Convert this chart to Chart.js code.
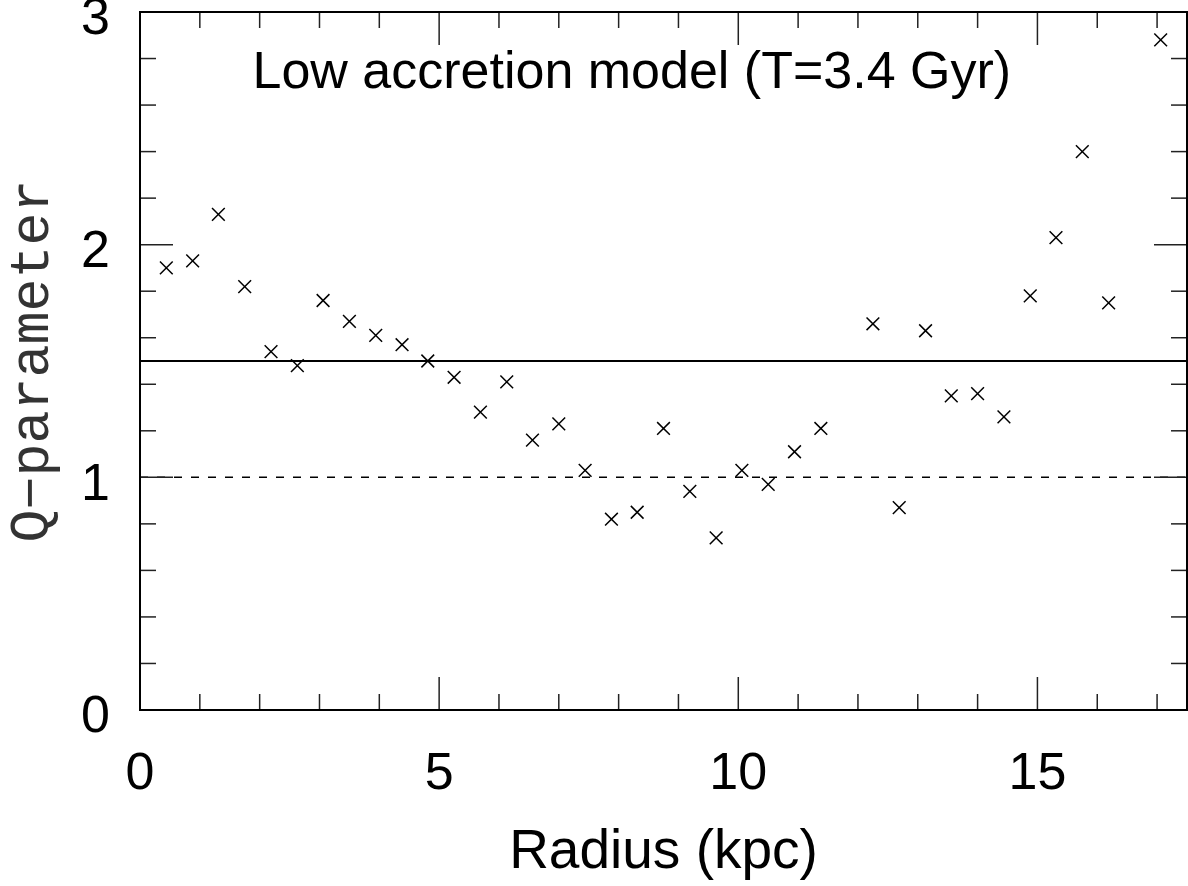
<!DOCTYPE html>
<html>
<head>
<meta charset="utf-8">
<script src="https://cdn.jsdelivr.net/npm/chart.js@4.4.1/dist/chart.umd.min.js"></script>
<style>
  html, body { margin: 0; padding: 0; background: #fff; }
  canvas { display: block; }
</style>
</head>
<body>
<canvas id="qChart" width="1188" height="886"></canvas>
<script>
// radius (kpc) and Q values
const radius = [0.44, 0.88, 1.31, 1.75, 2.19, 2.63, 3.06, 3.50, 3.94, 4.38,
                4.81, 5.25, 5.69, 6.13, 6.56, 7.00, 7.44, 7.88, 8.31, 8.75,
                9.19, 9.63, 10.06, 10.50, 10.94, 11.38, 12.25, 12.69, 13.13, 13.56,
                14.00, 14.44, 14.88, 15.31, 15.75, 16.19, 17.06];
const qValues = [1.90, 1.93, 2.13, 1.82, 1.54, 1.48, 1.76, 1.67, 1.61, 1.57,
                 1.50, 1.43, 1.28, 1.41, 1.16, 1.23, 1.03, 0.82, 0.85, 1.21,
                 0.94, 0.74, 1.03, 0.97, 1.11, 1.21, 1.66, 0.87, 1.63, 1.35,
                 1.36, 1.26, 1.78, 2.03, 2.40, 1.75, 2.88];

const xRange = [0, 17.5];
const yRange = [0, 3];
const xTickLabels = [0, 5, 10, 15];
const yTickLabels = [0, 1, 2, 3];
const qSolid = 1.5;   // solid reference line
const qDashed = 1.0;  // dashed reference line

const titleText = 'Low accretion model (T=3.4 Gyr)';

const points = radius.map((r, i) => ({ x: r, y: qValues[i] }));

// frame with inward ticks on all four sides
const axisFrame = {
  id: 'axisFrame',
  afterDraw(chart) {
    const { ctx, chartArea: a, scales: { x, y } } = chart;
    ctx.save();
    const seg = (x1, y1, x2, y2) => {
      ctx.beginPath();
      ctx.moveTo(x1, y1);
      ctx.lineTo(x2, y2);
      ctx.stroke();
    };
    ctx.strokeStyle = '#222';
    ctx.lineWidth = 1.5;
    for (let v = 1; v < xRange[1]; v++) {
      const len = xTickLabels.includes(v) ? 33 : 16;
      const px = x.getPixelForValue(v);
      seg(px, a.bottom, px, a.bottom - len);
      seg(px, a.top, px, a.top + len);
    }
    for (let k = 1; k < 15; k++) {
      const v = k / 5;
      const len = k % 5 === 0 ? 33 : 16;
      const py = y.getPixelForValue(v);
      seg(a.left, py, a.left + len, py);
      seg(a.right, py, a.right - len, py);
    }
    ctx.strokeStyle = '#000';
    ctx.lineWidth = 2;
    ctx.strokeRect(a.left, a.top, a.right - a.left, a.bottom - a.top);

    // label inside the plot
    ctx.fillStyle = '#000';
    ctx.font = '52px "Liberation Sans", Arial, sans-serif';
    ctx.textAlign = 'center';
    ctx.textBaseline = 'alphabetic';
    ctx.fillText(titleText, x.getPixelForValue(8.22), a.top + 76);
    ctx.restore();
  }
};

new Chart(document.getElementById('qChart').getContext('2d'), {
  type: 'scatter',
  data: {
    datasets: [
      {
        data: points,
        pointStyle: 'crossRot',
        pointRadius: 9,
        pointBorderWidth: 1.5,
        borderColor: '#000',
        backgroundColor: '#000'
      },
      {
        type: 'line',
        data: [{ x: xRange[0], y: qSolid }, { x: xRange[1], y: qSolid }],
        borderColor: '#000',
        borderWidth: 2,
        pointRadius: 0
      },
      {
        type: 'line',
        data: [{ x: xRange[0], y: qDashed }, { x: xRange[1], y: qDashed }],
        borderColor: '#000',
        borderWidth: 1.5,
        borderDash: [8, 9],
        pointRadius: 0
      }
    ]
  },
  options: {
    responsive: false,
    animation: false,
    layout: { autoPadding: false, padding: { top: 12, right: 1, left: 0, bottom: 0 } },
    plugins: {
      legend: { display: false },
      tooltip: { enabled: false },
      title: { display: false }
    },
    scales: {
      x: {
        type: 'linear',
        min: xRange[0],
        max: xRange[1],
        grid: { display: false, drawTicks: false },
        border: { display: false },
        ticks: {
          stepSize: 5,
          includeBounds: false,
          maxRotation: 0,
          padding: 33,
          color: '#000',
          font: { family: '"Liberation Sans", Arial, sans-serif', size: 52 },
          callback: v => xTickLabels.includes(v) ? String(v) : ''
        },
        title: {
          display: true,
          text: 'Radius (kpc)',
          color: '#000',
          padding: 0,
          font: { family: '"Liberation Sans", Arial, sans-serif', size: 55 }
        },
        afterFit: s => {
          s.height = 176;
          s.paddingLeft = 0;
          s.paddingRight = 0;
        }
      },
      y: {
        min: yRange[0],
        max: yRange[1],
        grid: { display: false, drawTicks: false },
        border: { display: false },
        ticks: {
          stepSize: 1,
          padding: 30,
          labelOffset: 8,
          color: '#000',
          font: { family: '"Liberation Sans", Arial, sans-serif', size: 52 },
          callback: v => yTickLabels.includes(v) ? String(v) : ''
        },
        title: {
          display: true,
          text: 'Q\u2212parameter',
          color: '#333',
          padding: 0,
          font: { family: '"Liberation Mono", monospace', size: 55 }
        },
        afterFit: s => {
          s.width = 140;
          s.paddingTop = 0;
          s.paddingBottom = 0;
        }
      }
    }
  },
  plugins: [axisFrame]
});
</script>
</body>
</html>
